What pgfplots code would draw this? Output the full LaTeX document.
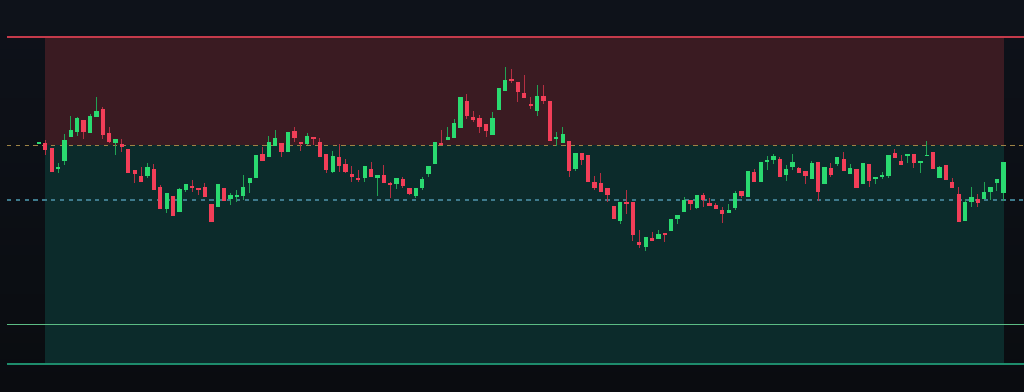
\documentclass[border=0pt]{standalone}
\usepackage{pgfplots}
\pgfplotsset{compat=1.18}
\usepackage{pgfplotstable}
\definecolor{bgtop}{RGB}{14,18,26}
\definecolor{bgbot}{RGB}{10,12,16}
\definecolor{zonered}{RGB}{58,27,34}
\definecolor{zonegreen}{RGB}{12,43,43}
\definecolor{lnred}{RGB}{196,58,74}
\definecolor{lngold}{RGB}{158,132,70}
\definecolor{lnteal}{RGB}{62,122,140}
\definecolor{lnlgreen}{RGB}{92,188,132}
\definecolor{lndgreen}{RGB}{30,140,108}
\definecolor{upc}{RGB}{42,218,112}
\definecolor{dnc}{RGB}{242,62,88}
\pgfplotstableread{
i o h l c
-1 247.7 248.3 247.7 248.3
0 248.3 251 236 241
1 243.3 243.3 219 219
2 222.3 227.7 218.3 224
3 229.7 257 226 251
4 254.3 275 254.3 261.3
5 259 273.7 255 272.7
6 271 271 251.7 259
7 257.7 277 257.7 275
8 274.3 293.7 274.3 280
9 281.7 283.7 251.7 256
10 257.7 263.7 247.7 249
11 248.3 252 236 252
12 246.7 251.7 239 243.7
13 242 242 217.7 218.3
14 221 221 208.3 217
15 215 223.7 209 209
16 215.3 228.3 212.7 223.7
17 222 227 201 201
18 204.3 206 181.7 181.7
19 181.7 198.3 177.7 198.3
20 195.3 195.3 175.3 175.3
21 179 203.3 179 202.3
22 201 207 199.3 207
23 205.3 211 199.3 203.7
24 203 203 195.7 201.3
25 204.3 207.7 193.7 193.7
26 186.7 186.7 169.3 169.3
27 183.7 207.3 183.7 207.3
28 203.3 203.3 190.3 190.3
29 192 198.3 186 195.7
30 193.7 201 189.3 195.7
31 195 216 191 203.7
32 207.7 212.7 197.7 212.7
33 213.3 236 213.3 236
34 237 243.7 230.3 230.3
35 233.7 255.3 233.7 248.7
36 245.3 261 245.3 253.3
37 248.3 248.3 234.3 239
38 238.7 258.7 238.7 258.7
39 260 264.3 249.3 252.7
40 249 249 240.3 247
41 247.3 257.7 246 255
42 253.7 253.7 246 251.7
43 248.7 253.3 234 234
44 236.7 236.7 217.7 221
45 219.3 240 217.7 235
46 233.7 247 219.3 225
47 227 232 217.7 219.3
48 217 225.3 209.3 214.3
49 213 221 209.3 211
50 212.7 225.3 209.3 225.3
51 222 228.7 213.7 213.7
52 212.7 216 195 216
53 215.7 226 208.3 208.3
54 208 209.3 192.7 205.7
55 206.7 212.7 201.7 212.7
56 212 213.7 202.7 204.7
57 202.7 202.7 196 197
58 195 203.3 192.7 203.3
59 202.7 214.3 201 212.3
60 216.7 225 214.3 225
61 227 248.7 227 248.7
62 248.3 261 246.3 246.3
63 251 263.7 251 253.7
64 252.7 271.7 252.7 268
65 262.7 294.3 262.7 293.7
66 290.3 297 271.7 275
67 274.3 280 269.3 271.3
68 273 276 257.7 264.3
69 266.7 266.7 254.3 259.7
70 255.7 279 255.7 273
71 281 303 281 303
72 299.7 324.3 299.7 310.7
73 311.7 322 307.7 310
74 309.3 309.3 289.3 298.7
75 297.7 316 293 293
76 287 294.3 281.7 285.3
77 280.3 306 275.3 295.3
78 295 306 286.7 290
79 289.7 289.7 250 250
80 252 258.7 245.3 253.7
81 248.3 264.3 248.3 256.7
82 250.3 250.3 214.3 220
83 222 238 220 238
84 237.7 237.7 226 231
85 236 236 209.3 209.3
86 209.3 215 201 203
87 208.3 217.7 198.7 198.7
88 202.7 202.7 189.3 196
89 185.3 185.3 171.7 171.7
90 170 188.7 166.7 188.7
91 189.3 201 176.7 187.3
92 189 189 150.3 155.7
93 149 161 143.3 146.3
94 143.7 154.3 140.3 154.3
95 152.7 159.3 150.3 150.3
96 152.3 161 152.3 156.7
97 157.7 157.7 148.7 156
98 160.3 172 160.3 172
99 172.3 175.7 166.7 175.7
100 178.7 194.3 178.7 190.7
101 191.3 191.3 181 187.3
102 183.3 196 182 196
103 195.7 198 184.3 191
104 188 192.7 184.7 184.7
105 185.7 188 181.7 181.7
106 181 184.3 168.3 177.3
107 177.7 186.7 177.7 181
108 182.7 200.3 181 198.3
109 200.3 200.3 192.7 195.3
110 194.3 220 194.3 220
111 219 222 208.7 208.7
112 209.3 229.3 209.3 229.3
113 229.7 235 221 231
114 231 237 226.7 235.3
115 232 234.3 214.3 214.3
116 216 226 210.3 222
117 223.7 237 221 228.7
118 222.7 224.3 218.3 218.3
119 220.3 220.3 207 215
120 212 230.3 212 227.7
121 229.3 229.3 190.3 199.3
122 207 224.3 207 224.3
123 222.7 227.7 214.3 216
124 226.7 233.7 225 233.7
125 231.7 238.7 220.3 220.3
126 217.3 227 217.3 222.7
127 222.3 222.3 203.3 203.3
128 207 228 207 228
129 227 227 204.3 209.7
130 212.3 213.7 206.7 213.7
131 214.3 218.7 211.7 216.3
132 215 235.7 212.7 235.7
133 238 241.7 233.3 233.3
134 230 236 226 226
135 235.3 237 227.7 237
136 237 237 223.3 227.7
137 228.7 230 217.7 230
138 234.7 250 234.7 236.3
139 239 239 222 222
140 213.3 225.3 213.3 223.7
141 226.3 226.3 211.3 211.3
142 209.3 212.7 202.7 202.7
143 197 203.7 168.7 168.7
144 170 192 170 189.3
145 189.3 204.3 184.3 194
146 192.3 196.7 184.3 187.7
147 192 208.7 192 198.7
148 199.3 203.7 191 203.7
149 207.7 212.3 200.3 212.3
150 197.7 229 190.3 229
}\candles
\begin{document}
\begin{tikzpicture}
\begin{axis}[
  width=1024pt, height=391pt, scale only axis,
  xmin=-7.093, xmax=153.23, ymin=0, ymax=391,
  hide axis, clip=true,
  candle/.style={draw=none, no markers, forget plot,
    error bars/y dir=both, error bars/y explicit, error bars/error mark=none},
]
% background
\addplot[draw=none, top color=bgtop, bottom color=bgbot, forget plot]
  coordinates {(-7.093,0) (153.23,0) (153.23,391) (-7.093,391)} -- cycle;
% zones
\addplot[draw=none, fill=zonered, forget plot]
  coordinates {(-0.05,245.5) (150.1,245.5) (150.1,354.3) (-0.05,354.3)} -- cycle;
\addplot[draw=none, fill=zonegreen, forget plot]
  coordinates {(-0.05,28.3) (150.1,28.3) (150.1,245.5) (-0.05,245.5)} -- cycle;
% level lines
\addplot[lnred, line width=2pt, forget plot] coordinates {(-6.0,354.3) (153.3,354.3)};
\addplot[lngold, line width=1.5pt, dash pattern=on 4.4pt off 4.4pt, forget plot] coordinates {(-6.0,245.5) (153.3,245.5)};
\addplot[lnteal, line width=1.5pt, dash pattern=on 4.4pt off 4.4pt, forget plot] coordinates {(-6.0,191) (153.3,191)};
\addplot[lnlgreen, line width=1.6pt, forget plot] coordinates {(-6.0,66.7) (153.3,66.7)};
\addplot[lndgreen, line width=2pt, forget plot] coordinates {(-6.0,27.5) (153.3,27.5)};
% wicks up
\addplot[candle,
  restrict expr to domain={\thisrow{c}-\thisrow{o}}{0:1000},
  error bars/error bar style={solid, draw=upc!75!black, line width=1pt}]
  table[x=i, y expr={(\thisrow{h}+\thisrow{l})/2}, y error expr={(\thisrow{h}-\thisrow{l})/2}] {\candles};
% wicks down
\addplot[candle,
  restrict expr to domain={\thisrow{o}-\thisrow{c}}{0.0001:1000},
  error bars/error bar style={solid, draw=dnc!75!black, line width=1pt}]
  table[x=i, y expr={(\thisrow{h}+\thisrow{l})/2}, y error expr={(\thisrow{h}-\thisrow{l})/2}] {\candles};
% bodies up
\addplot[candle,
  restrict expr to domain={\thisrow{c}-\thisrow{o}}{0:1000},
  error bars/error bar style={solid, draw=upc, line width=4.3pt}]
  table[x=i, y expr={(\thisrow{o}+\thisrow{c})/2}, y error expr={max(abs(\thisrow{c}-\thisrow{o})/2,0.8)}] {\candles};
% bodies down
\addplot[candle,
  restrict expr to domain={\thisrow{o}-\thisrow{c}}{0.0001:1000},
  error bars/error bar style={solid, draw=dnc, line width=4.3pt}]
  table[x=i, y expr={(\thisrow{o}+\thisrow{c})/2}, y error expr={max(abs(\thisrow{c}-\thisrow{o})/2,0.8)}] {\candles};
\end{axis}
\end{tikzpicture}
\end{document}
